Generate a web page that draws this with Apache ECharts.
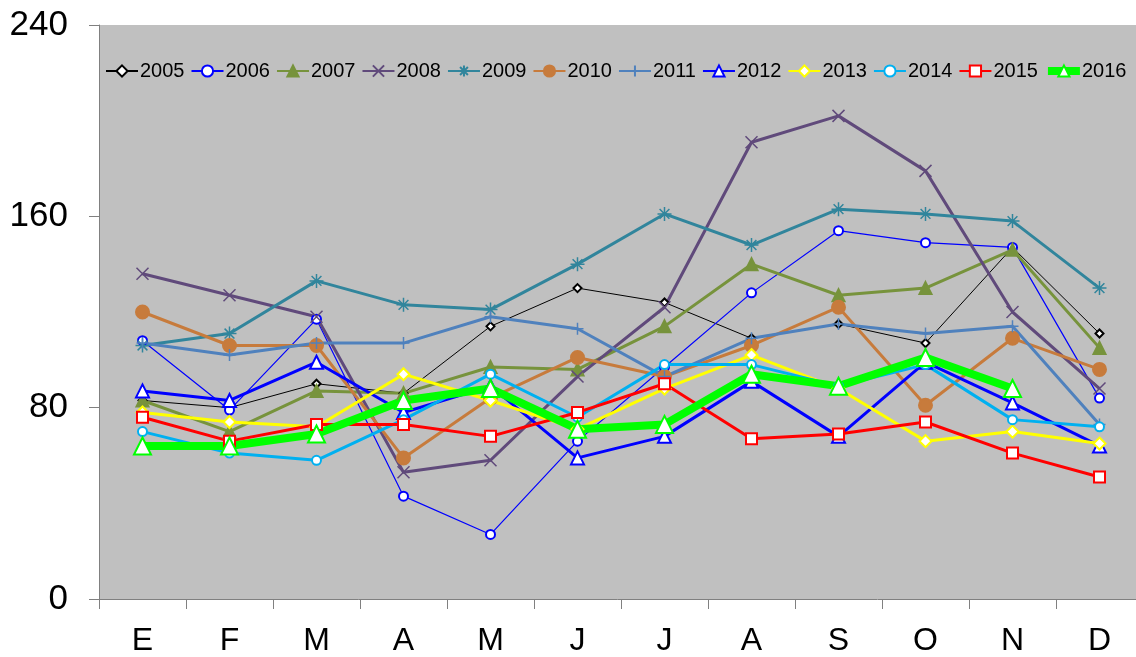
<!DOCTYPE html>
<html>
<head>
<meta charset="utf-8">
<script src="https://cdn.jsdelivr.net/npm/echarts@6/dist/echarts.min.js"></script>
<style>
  html, body { margin: 0; padding: 0; background: #fff; }
  #chart { width: 1136px; height: 657px; }
</style>
</head>
<body>
<div id="chart"></div>
<script>
// meses
const months = ['E', 'F', 'M', 'A', 'M', 'J', 'J', 'A', 'S', 'O', 'N', 'D']
const yTicks = [0, 80, 160, 240]

// valores por año
const y2005 = [83, 80, 90, 86, 114, 130, 124, 109, 115, 107, 147, 111]
const y2006 = [108, 79, 117, 43, 27, 66, 97, 128, 154, 149, 147, 84]
const y2007 = [83, 70, 87, 86, 97, 96, 114, 140, 127, 130, 146, 105]
const y2008 = [136, 127, 118, 53, 58, 93, 122, 191, 202, 179, 120, 88]
const y2009 = [106, 111, 133, 123, 121, 140, 161, 148, 163, 161, 158, 130]
const y2010 = [120, 106, 106, 59, 84, 101, 93, 106, 122, 81, 109, 96]
const y2011 = [107, 102, 107, 107, 118, 113, 93, 109, 115, 111, 114, 73]
const y2012 = [87, 83, 99, 78, 89, 59, 68, 91, 68, 99, 82, 64]
const y2013 = [78, 74, 72, 94, 83, 71, 88, 102, 88, 66, 70, 65]
const y2014 = [70, 61, 58, 75, 94, 76, 98, 98, 89, 98, 75, 72]
const y2015 = [76, 66, 73, 73, 68, 78, 90, 67, 69, 74, 61, 51]
const y2016 = [64, 64, 69, 83, 88, 71, 73, 94, 89, 101, 88, null]

const FONT = '"Liberation Sans", Arial, sans-serif'

// marcadores tipo Excel
const crossPath = 'path://M0,0L10,10M10,0L0,10'
const starPath = 'path://M5,0L5,10M0,5L10,5M1.5,1.5L8.5,8.5M8.5,1.5L1.5,8.5'
const plusPath = 'path://M5,0L5,10M0,5L10,5'

// estilo de cada serie
function line(name, data, color, width, symbol, size, filled) {
  return {
    name: name,
    type: 'line',
    data: data,
    symbol: symbol,
    symbolSize: size,
    showAllSymbol: true,
    connectNulls: false,
    lineStyle: { color: color, width: width },
    itemStyle: {
      color: filled ? color : '#ffffff',
      borderColor: color,
      borderWidth: symbol.indexOf('path://') === 0 ? 1.5 : 2
    },
    emphasis: { disabled: true },
    animation: false
  }
}

const chart = echarts.init(document.getElementById('chart'))
const option = {
  backgroundColor: '#ffffff',
  grid: {
    left: 99,
    width: 1044,
    top: 25,
    bottom: 58,
    outerBoundsMode: 'none',
    show: true,
    backgroundColor: '#C0C0C0',
    borderWidth: 0
  },
  legend: {
    top: 61,
    left: 105,
    padding: 0,
    itemGap: 6,
    itemWidth: 32,
    itemHeight: 14,
    textStyle: { fontSize: 20, color: '#000', fontFamily: FONT, padding: [0, 0, 0, -3] },
    data: ['2005', '2006', '2007', '2008', '2009', '2010', '2011', '2012', '2013', '2014', '2015',
      { name: '2016', lineStyle: { width: 8 } }]
  },
  xAxis: {
    type: 'category',
    data: months,
    boundaryGap: true,
    axisLine: { show: true, lineStyle: { color: '#808080', width: 1 } },
    axisTick: { show: true, alignWithLabel: false, length: 10, inside: false, lineStyle: { color: '#808080' } },
    axisLabel: { color: '#000', fontSize: 32, fontFamily: FONT, margin: 26, interval: 0 },
    splitLine: { show: false }
  },
  yAxis: {
    type: 'value',
    min: yTicks[0],
    max: yTicks[yTicks.length - 1],
    interval: yTicks[1] - yTicks[0],
    axisLine: { show: true, lineStyle: { color: '#808080', width: 1 } },
    axisTick: { show: true, length: 10, lineStyle: { color: '#808080' } },
    axisLabel: { color: '#000', fontSize: 35, fontFamily: FONT, margin: 31 },
    splitLine: { show: false }
  },
  series: [
    line('2005', y2005, '#000000', 1, 'diamond', 8, false),
    line('2006', y2006, '#0000FF', 1.2, 'circle', 9, false),
    line('2007', y2007, '#77933C', 3, 'triangle', 12, true),
    line('2008', y2008, '#604A7B', 3, crossPath, 12, false),
    line('2009', y2009, '#31859C', 3, starPath, 14, false),
    line('2010', y2010, '#C77B3C', 3, 'circle', 13, true),
    line('2011', y2011, '#4F81BD', 3, plusPath, 12, false),
    line('2012', y2012, '#0000FF', 3, 'triangle', 13, false),
    line('2013', y2013, '#FFFF00', 3, 'diamond', 12, false),
    line('2014', y2014, '#00B0F0', 3, 'circle', 9, false),
    line('2015', y2015, '#FF0000', 3, 'rect', 11, false),
    line('2016', y2016, '#00FF00', 8, 'triangle', 17, false)
  ]
}
chart.setOption(option)
window.addEventListener('resize', function () { chart.resize() })
</script>
</body>
</html>
